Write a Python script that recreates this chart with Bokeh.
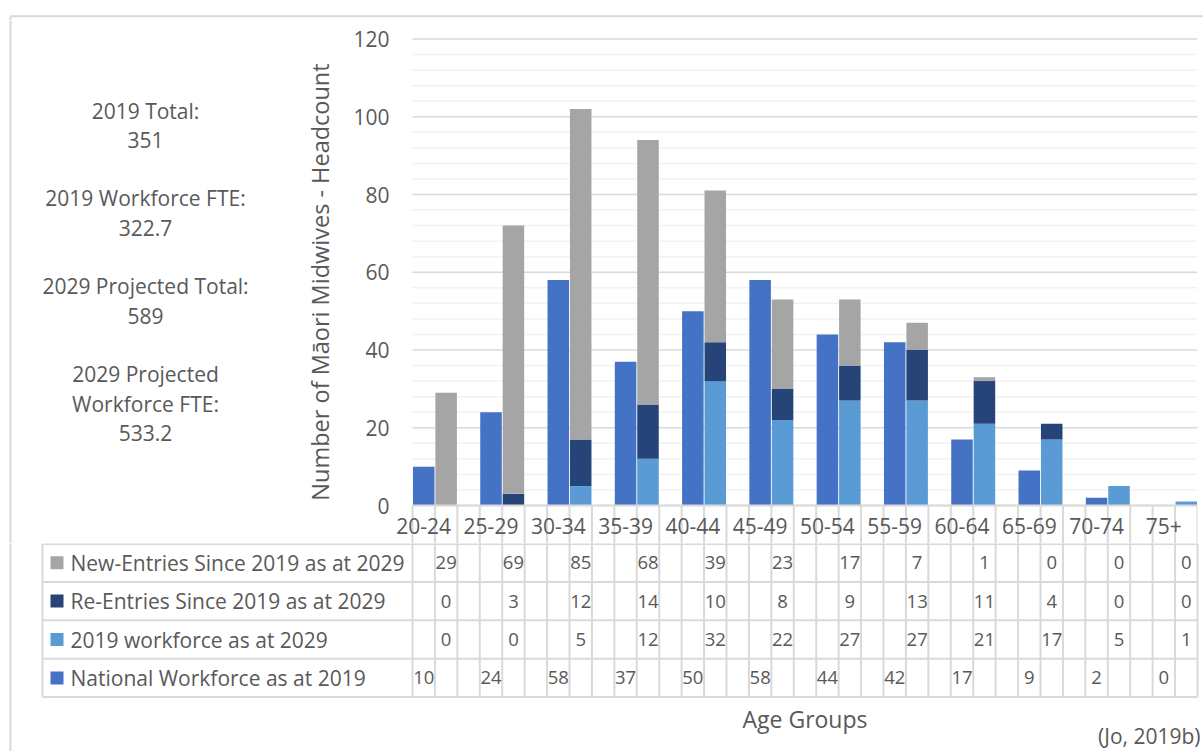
from bokeh.plotting import figure
from bokeh.models import Range1d, FixedTicker, ColumnDataSource
from bokeh.layouts import column, row
from bokeh.embed import file_html
from bokeh.resources import INLINE
from bokeh.core.properties import value

# ---------------- data ----------------
age_groups = ["20-24", "25-29", "30-34", "35-39", "40-44", "45-49",
              "50-54", "55-59", "60-64", "65-69", "70-74", "75+"]
national_2019 = [10, 24, 58, 37, 50, 58, 44, 42, 17, 9, 2, 0]
workforce_2019_at_2029 = [0, 0, 5, 12, 32, 22, 27, 27, 21, 17, 5, 1]
re_entries_2029 = [0, 3, 12, 14, 10, 8, 9, 13, 11, 4, 0, 0]
new_entries_2029 = [29, 69, 85, 68, 39, 23, 17, 7, 1, 0, 0, 0]

series_labels = ["New-Entries Since 2019 as at 2029",
                 "Re-Entries Since 2019 as at 2029",
                 "2019 workforce as at 2029",
                 "National Workforce as at 2019"]

y_ticks = [0, 20, 40, 60, 80, 100, 120]
y_minor_ticks = [4, 8, 12, 16, 24, 28, 32, 36, 44, 48, 52, 56, 64, 68, 72, 76,
                 84, 88, 92, 96, 104, 108, 112, 116]

annot_lines = ["2019 Total:", "351", "",
               "2019 Workforce FTE:", "322.7", "",
               "2029 Projected Total:", "589", "",
               "2029 Projected", "Workforce FTE:", "533.2"]

y_title = "Number of Māori Midwives - Headcount"
x_title = "Age Groups"
source_note = "(Jo, 2019b)"

# ---------------- style / layout constants ----------------
FONT = "Open Sans"
TXT = "#595959"
GRID = "#D9D9D9"
MINOR = "#F2F2F2"
C_NAT = "#4472C4"
C_W19 = "#5B9BD5"
C_RE = "#264478"
C_NEW = "#A5A5A5"
series_colors = [C_NEW, C_RE, C_W19, C_NAT]

W, H = 1203, 751
STRIP_H = 20          # page y where the middle row starts
PLOT_L = 412.0        # page x of plot area left
AXIS_X = 390          # page x where the y tick labels end
PLOT_BOT = 505        # page y of value 0
Y120 = 38.5           # page y of value 120
TABLE_TOP = 543       # page y of first table row
COL_W = 785.0 / 35    # width of one column (px)
ROW_H = 38.4
ANNOT_W = 300
BORDER_X = 10
BORDER_Y = 15.8


def px2col(px):
    return (px - PLOT_L) / COL_W


def py2row(py):
    return (py - TABLE_TOP) / ROW_H


n = len(age_groups)
n_cols = 3 * n - 1
national_x = [3 * i + 0.5 for i in range(n)]
stack_x = [3 * i + 1.5 for i in range(n)]


def base_fig(**kw):
    f = figure(output_backend="svg", toolbar_location=None, **kw)
    f.outline_line_color = None
    f.background_fill_color = "white"
    f.border_fill_color = "white"
    return f


# ---------------- top strip (chart border) ----------------
strip = base_fig(width=W, height=STRIP_H, x_range=Range1d(0, W),
                 y_range=Range1d(STRIP_H, 0), x_axis_type=None,
                 y_axis_type=None, min_border=0)
strip.segment(x0=[BORDER_X, BORDER_X], y0=[BORDER_Y, BORDER_Y],
              x1=[W, BORDER_X], y1=[BORDER_Y, STRIP_H],
              line_color=GRID, line_width=2)

# ---------------- left annotations ----------------
mid_h = TABLE_TOP - STRIP_H
annot = base_fig(width=ANNOT_W, height=mid_h, x_range=Range1d(0, ANNOT_W),
                 y_range=Range1d(TABLE_TOP, STRIP_H), x_axis_type=None,
                 y_axis_type=None, min_border=0)
annot.segment(x0=[BORDER_X], y0=[STRIP_H], x1=[BORDER_X], y1=[TABLE_TOP],
              line_color=GRID, line_width=2)
ay = [110 + 29.3 * i for i, t in enumerate(annot_lines) if t]
at = [t for t in annot_lines if t]
annot.text(x=[145] * len(at), y=ay, text=at, text_font=value(FONT),
           text_font_size="21px", text_color=TXT, text_align="center",
           text_baseline="middle")

# ---------------- chart (frame includes the category-label row) ----------------
ppu = (PLOT_BOT - Y120) / 120.0
y_lo = -(TABLE_TOP - PLOT_BOT) / ppu
y_hi = (PLOT_BOT - STRIP_H) / ppu
chart = base_fig(width=W - ANNOT_W, height=mid_h,
                 x_range=Range1d(px2col(AXIS_X), n_cols),
                 y_range=Range1d(y_lo, y_hi),
                 x_axis_type=None,
                 min_border_left=int(AXIS_X - ANNOT_W), min_border_right=6,
                 min_border_top=0, min_border_bottom=0)

yax = chart.yaxis[0]
yax.ticker = FixedTicker(ticks=y_ticks, minor_ticks=y_minor_ticks)
yax.axis_line_color = None
yax.major_tick_line_color = None
yax.minor_tick_line_color = None
yax.major_tick_out = 0
yax.major_tick_in = 0
yax.minor_tick_out = 0
yax.minor_tick_in = 0
yax.major_label_standoff = 1
yax.major_label_text_font = FONT
yax.major_label_text_font_size = "21px"
yax.major_label_text_color = TXT
yax.axis_label = y_title
yax.axis_label_text_font = FONT
yax.axis_label_text_font_size = "23.5px"
yax.axis_label_text_font_style = "normal"
yax.axis_label_text_color = TXT
yax.axis_label_standoff = 14
chart.ygrid.visible = False

# value gridlines across the plot area only
chart.segment(x0=[0] * len(y_minor_ticks), y0=y_minor_ticks,
              x1=[n_cols] * len(y_minor_ticks), y1=y_minor_ticks,
              line_color=MINOR, line_width=1.5)
chart.segment(x0=[0] * len(y_ticks), y0=y_ticks,
              x1=[n_cols] * len(y_ticks), y1=y_ticks,
              line_color=GRID, line_width=1.5)

chart.vbar(x=national_x, top=national_2019, bottom=0, width=0.96,
           fill_color=C_NAT, line_color=None)
src = ColumnDataSource(dict(x=stack_x, w2019=workforce_2019_at_2029,
                            re=re_entries_2029, new=new_entries_2029))
chart.vbar_stack(["w2019", "re", "new"], x="x", width=0.96, source=src,
                 fill_color=[C_W19, C_RE, C_NEW], line_color=None)

# category axis line and dividers of the label row
chart.segment(x0=[0], y0=[0], x1=[n_cols], y1=[0], line_color=GRID,
              line_width=2)
vx = list(range(n_cols + 1))
chart.segment(x0=vx, y0=[0] * len(vx), x1=vx, y1=[y_lo] * len(vx),
              line_color=GRID, line_width=2)
# category labels
chart.text(x=national_x, y=[-(525.5 - PLOT_BOT) / ppu] * n, text=age_groups,
           text_font=value(FONT), text_font_size="21px", text_color=TXT,
           text_align="center", text_baseline="middle")

# ---------------- data table ----------------
tab_h = H - TABLE_TOP
table = base_fig(width=W, height=tab_h,
                 x_range=Range1d(px2col(0), px2col(W)),
                 y_range=Range1d(py2row(H), py2row(TABLE_TOP)),
                 x_axis_type=None, y_axis_type=None, min_border=0)

left_x = px2col(42)
hy = [py2row(TABLE_TOP + 0.6), 1, 2, 3, 4]
table.segment(x0=[left_x] * 5, y0=hy, x1=[n_cols] * 5, y1=hy,
              line_color=GRID, line_width=2)
table.segment(x0=vx, y0=[0] * len(vx), x1=vx, y1=[4] * len(vx),
              line_color=GRID, line_width=2)
table.segment(x0=[left_x], y0=[0], x1=[left_x], y1=[4],
              line_color=GRID, line_width=2)
table.segment(x0=[px2col(BORDER_X)], y0=[0], x1=[px2col(BORDER_X)],
              y1=[py2row(H)], line_color=GRID, line_width=2)

row_series = [(new_entries_2029, 1), (re_entries_2029, 1),
              (workforce_2019_at_2029, 1), (national_2019, 0)]
tx, ty, tt = [], [], []
for r, (vals, off) in enumerate(row_series):
    for g, v in enumerate(vals):
        tx.append(3 * g + off + 0.5)
        ty.append(r + 0.5)
        tt.append(str(v))
table.text(x=tx, y=ty, text=tt, text_font=value(FONT), text_font_size="18.5px",
           text_color=TXT, text_align="center", text_baseline="middle")

rows_y = [r + 0.5 for r in range(4)]
table.scatter(x=[px2col(56.5)] * 4, y=rows_y, marker="square", size=13,
              fill_color=series_colors, line_color=None)
table.text(x=[px2col(70)] * 4, y=rows_y, text=series_labels,
           text_font=value(FONT), text_font_size="21px", text_color=TXT,
           text_align="left", text_baseline="middle")

table.text(x=[n_cols / 2], y=[py2row(718)], text=[x_title],
           text_font=value(FONT), text_font_size="23px", text_color=TXT,
           text_align="center", text_baseline="middle")
table.text(x=[px2col(1200)], y=[py2row(735)], text=[source_note],
           text_font=value(FONT), text_font_size="21px", text_color=TXT,
           text_align="right", text_baseline="middle")

layout = column(strip, row(annot, chart), table)
open("out.html", "w").write(file_html(layout, INLINE))
